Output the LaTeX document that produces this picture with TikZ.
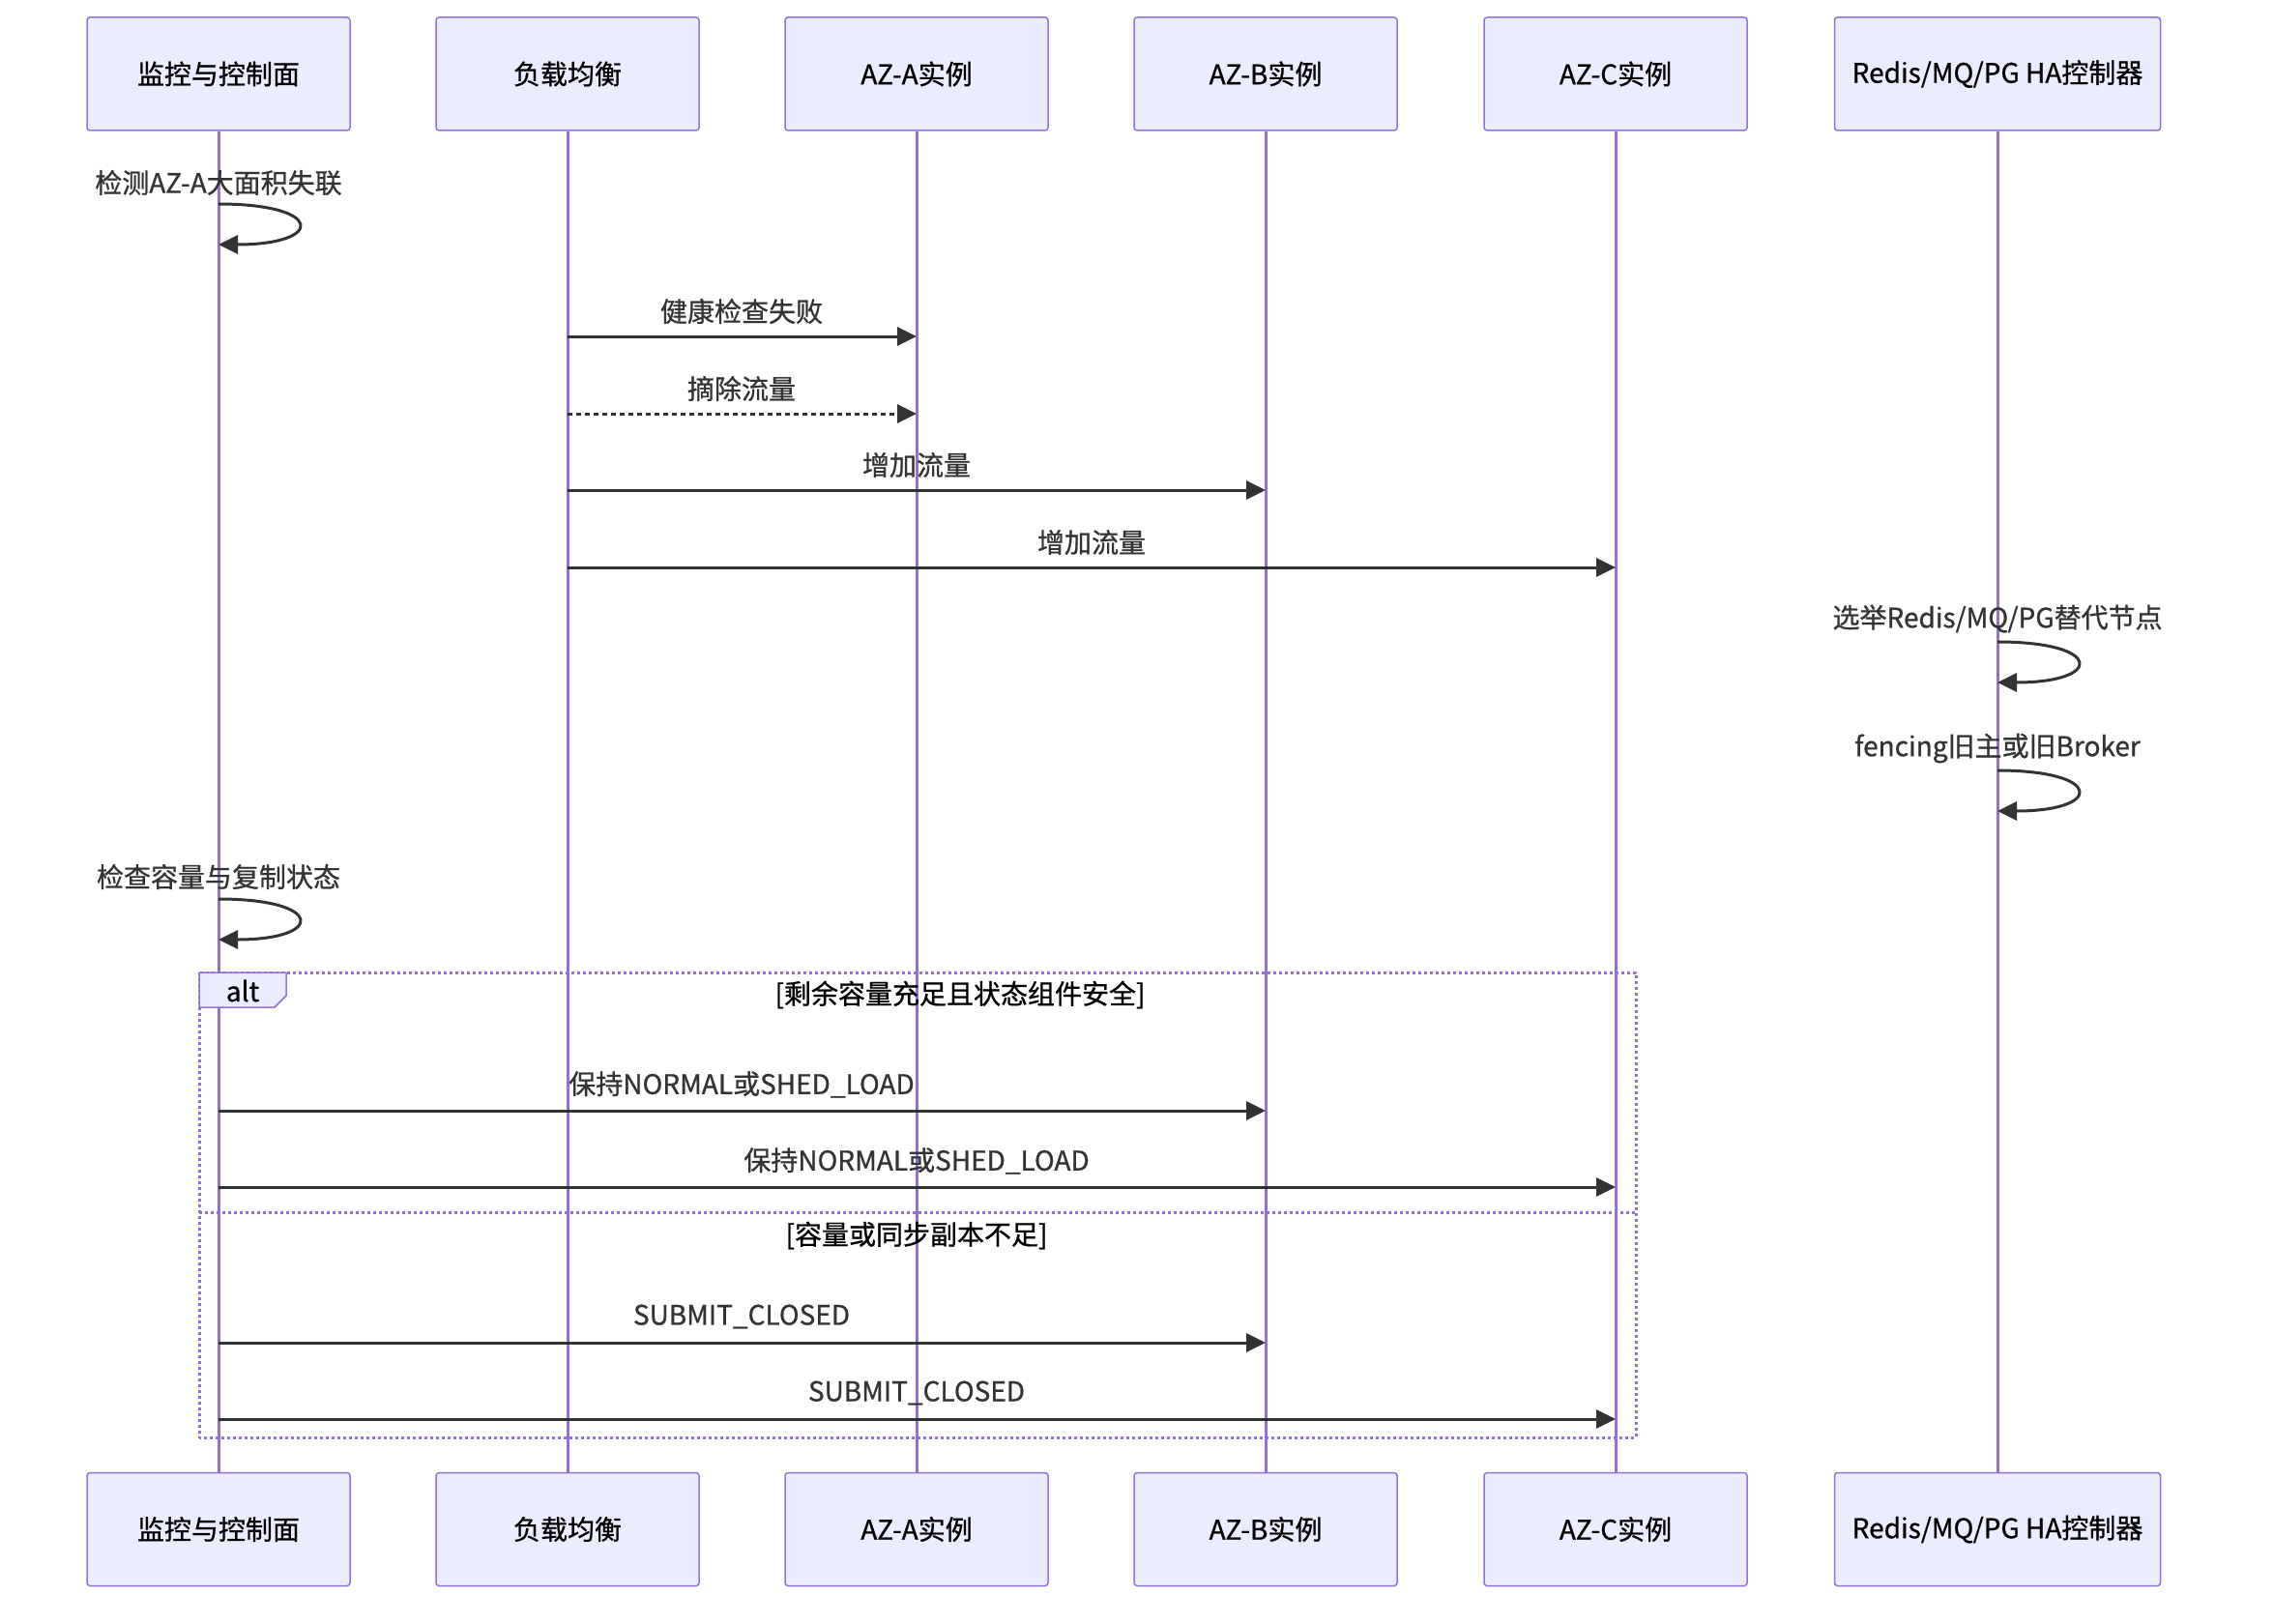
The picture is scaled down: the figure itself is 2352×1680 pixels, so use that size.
\documentclass[tikz,border=0pt]{standalone}
\usepackage{fontspec}
\setmainfont{Noto Sans CJK SC}[FakeBold=0.8]
\usetikzlibrary{arrows.meta,shapes}

\definecolor{actorfill}{HTML}{ECECFF}
\definecolor{actorline}{HTML}{9370DB}
\definecolor{msgcol}{HTML}{333333}

\begin{document}
\begin{tikzpicture}[x=1pt,y=-1pt,line join=bevel,
  >={Triangle[length=20pt,width=19pt]},
  actor/.style={draw=actorline,fill=actorfill,line width=1.5pt,rounded corners=3pt,
    minimum width=272pt,minimum height=117pt,inner sep=0pt,text=black,
    font=\fontsize{28}{32}\selectfont},
  lifeline/.style={draw=actorline,line width=3pt},
  msg/.style={draw=msgcol,line width=3pt,->},
  msgdot/.style={msg,dash pattern=on 5pt off 4pt},
  msglabel/.style={inner sep=0pt,text=msgcol,font=\fontsize{28}{32}\selectfont},
  loopmsg/.style={draw=msgcol,line width=3pt,->},
  altframe/.style={draw=actorline,line width=3pt,dash pattern=on 3pt off 3pt},
]
\fill[white] (0,0) rectangle (2352,1680);
\useasboundingbox (0,0) rectangle (2352,1680);

% Node: actors (top)
\node[actor] (mon) at (226,76.5) {监控与控制面};
\node[actor] (lb) at (587,76.5) {负载均衡};
\node[actor] (aza) at (948,76.5) {AZ-A实例};
\node[actor] (azb) at (1309,76.5) {AZ-B实例};
\node[actor] (azc) at (1671,76.5) {AZ-C实例};
\node[actor,minimum width=337pt] (ha) at (2066,76.5) {Redis/MQ/PG HA控制器};

% Node: actors (bottom)
\node[actor] (monb) at (226,1582) {监控与控制面};
\node[actor] (lbb) at (587,1582) {负载均衡};
\node[actor] (azab) at (948,1582) {AZ-A实例};
\node[actor] (azbb) at (1309,1582) {AZ-B实例};
\node[actor] (azcb) at (1671,1582) {AZ-C实例};
\node[actor,minimum width=337pt] (hab) at (2066,1582) {Redis/MQ/PG HA控制器};

% Lifelines
\draw[lifeline] (mon.south) -- (monb.north);
\draw[lifeline] (lb.south) -- (lbb.north);
\draw[lifeline] (aza.south) -- (azab.north);
\draw[lifeline] (azb.south) -- (azbb.north);
\draw[lifeline] (azc.south) -- (azcb.north);
\draw[lifeline] (ha.south) -- (hab.north);

% Edge: mon -> mon
\node[msglabel] (l1) at (226,189) {检测AZ-A大面积失联};
\draw[loopmsg] (mon |- 0,211) .. controls (336,211) and (336,253) .. (mon |- 0,253);

% Edge: lb -> aza
\node[msglabel] (l2) at (767,322) {健康检查失败};
\draw[msg] (lb |- 0,348) -- (aza |- 0,348);

% Edge: lb -> aza (dotted)
\node[msglabel] (l3) at (767,402) {摘除流量};
\draw[msgdot] (lb |- 0,428) -- (aza |- 0,428);

% Edge: lb -> azb
\node[msglabel] (l4) at (948,481) {增加流量};
\draw[msg] (lb |- 0,507) -- (azb |- 0,507);

% Edge: lb -> azc
\node[msglabel] (l5) at (1129,561) {增加流量};
\draw[msg] (lb |- 0,587) -- (azc |- 0,587);

% Edge: ha -> ha
\node[msglabel] (l6) at (2066,640) {选举Redis/MQ/PG替代节点};
\draw[loopmsg] (ha |- 0,664) .. controls (2176,664) and (2176,706) .. (ha |- 0,706);

% Edge: ha -> ha
\node[msglabel] (l7) at (2066,774) {fencing旧主或旧Broker};
\draw[loopmsg] (ha |- 0,797) .. controls (2176,797) and (2176,839) .. (ha |- 0,839);

% Edge: mon -> mon
\node[msglabel] (l8) at (226,907) {检查容量与复制状态};
\draw[loopmsg] (mon |- 0,930) .. controls (336,930) and (336,972) .. (mon |- 0,972);

% Frame: alt
\draw[altframe] (206,1006) rectangle (1692,1487);
\draw[altframe] (206,1254) -- (1692,1254);
\draw[draw=actorline,fill=actorfill,line width=1.5pt] (206,1006) -- (296,1006) -- (296,1030) -- (284,1042) -- (206,1042) -- cycle;
\node[msglabel,text=black] (alt) at (251,1025) {alt};
\node[msglabel,text=black] (c1) at (993,1029) {[剩余容量充足且状态组件安全]};
\node[msglabel,text=black] (c2) at (948,1278) {[容量或同步副本不足]};

% Edge: mon -> azb
\node[msglabel] (l9) at (767,1122) {保持NORMAL或SHED\_LOAD};
\draw[msg] (mon |- 0,1149) -- (azb |- 0,1149);

% Edge: mon -> azc
\node[msglabel] (l10) at (948,1201) {保持NORMAL或SHED\_LOAD};
\draw[msg] (mon |- 0,1228) -- (azc |- 0,1228);

% Edge: mon -> azb
\node[msglabel] (l11) at (767,1362) {SUBMIT\_CLOSED};
\draw[msg] (mon |- 0,1389) -- (azb |- 0,1389);

% Edge: mon -> azc
\node[msglabel] (l12) at (948,1441) {SUBMIT\_CLOSED};
\draw[msg] (mon |- 0,1468) -- (azc |- 0,1468);
%
\end{tikzpicture}
\end{document}
